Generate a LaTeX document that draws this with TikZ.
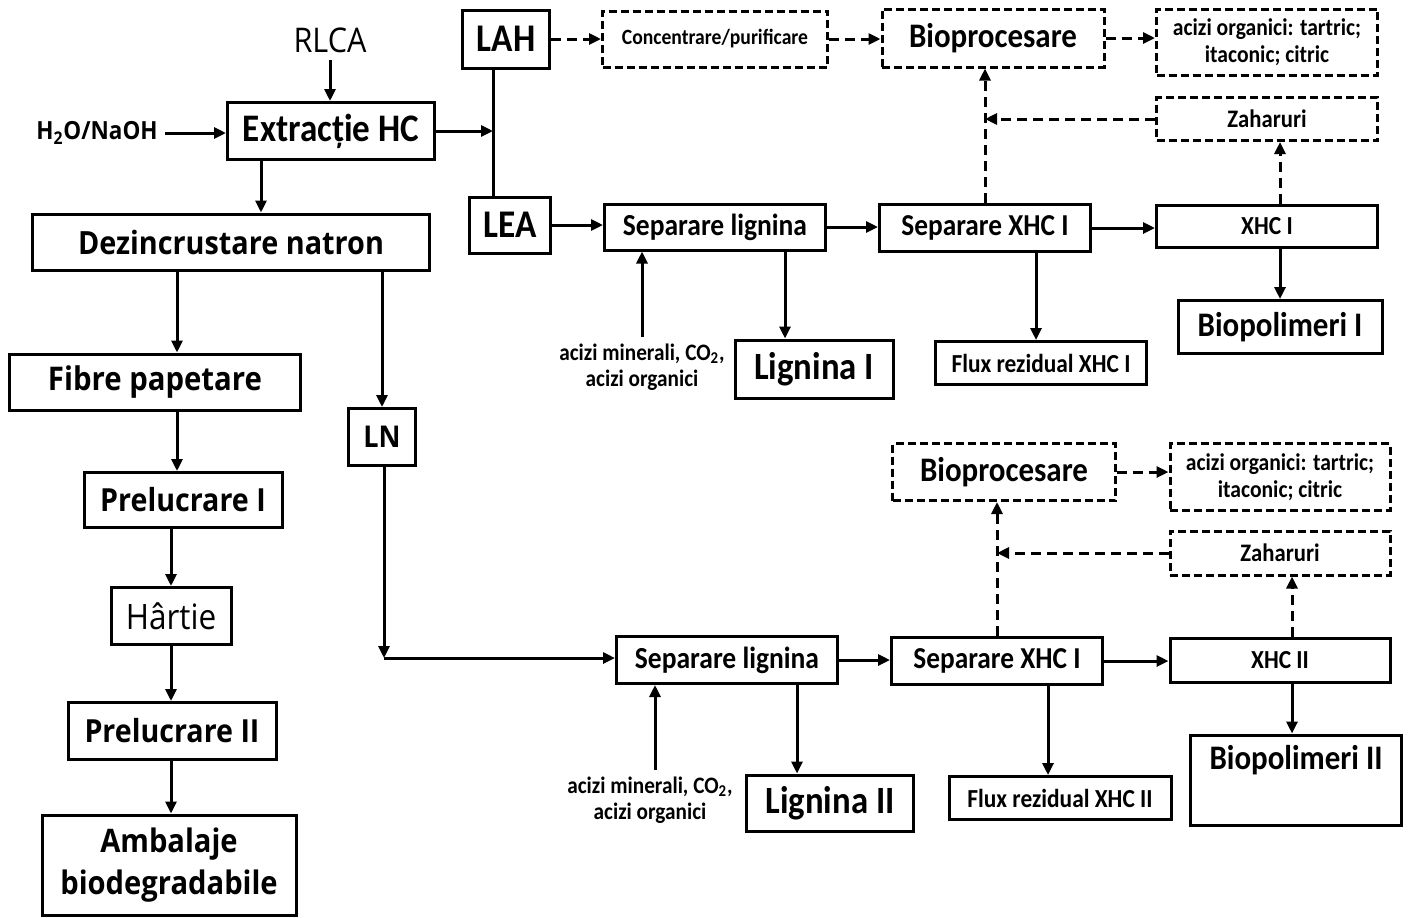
\documentclass[tikz,border=0pt]{standalone}
\usepackage{fontspec}
\setmainfont{Carlito}[FakeStretch=0.9]
\newfontfamily\opensans{Open Sans}[FakeStretch=0.9]
\usetikzlibrary{arrows.meta}

\begin{document}
\begin{tikzpicture}[
    x=0.5pt, y=-0.5pt,
    % Stiluri pentru casete si sageti
    etapa/.style={rectangle, draw=black, line width=1.5pt, text centered, inner sep=1pt},
    etapaDash/.style={etapa, dash pattern=on 4pt off 2pt},
    dim/.style 2 args={minimum width=#1*0.5pt, minimum height=#2*0.5pt},
    txt/.style={font=\bfseries\fontsize{#1}{#1}\selectfont},
    ostxt/.style={font=\opensans\bfseries\fontsize{#1}{#1}\selectfont},
    sageata/.style={line width=1.5pt, -{Triangle[length=6pt, width=5.5pt]}},
    sageataDash/.style={sageata, dash pattern=on 5pt off 3pt},
    linie/.style={line width=1.5pt}
    ]
    \useasboundingbox (0,0) rectangle (1411,917);

    % Noduri - coloana din stanga
    \node (rlca) [font=\opensans\fontsize{17}{17}\selectfont] at (330,40) {RLCA};
    \node (apa) [ostxt=12.5] at (97,133) {H\textsubscript{2}O/NaOH};
    \node (extr) [etapa, dim={207}{57}, txt=19.5] at (331,131) {Extracție HC};
    \node (dezinc) [etapa, dim={397}{56}, ostxt=16] at (231,242) {Dezincrustare natron};
    \node (fibre) [etapa, dim={291}{56}, ostxt=16.3] at (155,382) {Fibre papetare};
    \node (prel1) [etapa, dim={198}{55}, ostxt=15.9] at (183,500) {Prelucrare I};
    \node (hartie) [etapa, dim={120}{57}, font=\opensans\fontsize{17.5}{17.5}\selectfont] at (171,616) {Hârtie};
    \node (prel2) [etapa, dim={208}{57}, ostxt=15.9] at (172,731) {Prelucrare II};
    \node (ambalaj) [etapa, dim={254}{100}, ostxt=16.2, align=center] at (169,865) {Ambalaje\\[4.5pt]biodegradabile};
    \node (ln) [etapa, dim={67}{57}, ostxt=15] at (382,437) {LN};

    % Noduri - LAH / LEA
    \node (lah) [etapa, dim={87}{58}, txt=19.6] at (506,39) {LAH};
    \node (lea) [etapa, dim={81}{56}, txt=19.6] at (510,225) {LEA};
    \coordinate (nod) at (493,131);

    % Noduri - ramura de sus
    \node (conc) [etapaDash, dim={225}{56}, txt=10.9] at (715,39) {Concentrare/purificare};
    \node (bio1) [etapaDash, dim={222}{58}, txt=17.2] at (993,38) {Bioprocesare};
    \node (acid1) [etapaDash, dim={221}{66}, txt=12, align=center] at (1267,42) {acizi organici: tartric;\\[1.2pt]itaconic; citric};
    \node (zah1) [etapaDash, dim={221}{43}, txt=12.6] at (1267,119) {Zaharuri};
    \node (seplig1) [etapa, dim={221}{46}, txt=15.3] at (715,227) {Separare lignina};
    \node (sepxhc1) [etapa, dim={211}{47}, txt=15.2] at (985,228) {Separare XHC I};
    \node (xhc1) [etapa, dim={221}{42}, txt=13] at (1267,226) {XHC I};
    \node (biopol1) [etapa, dim={204}{53}, txt=17.2] at (1280,327) {Biopolimeri I};
    \node (flux1) [etapa, dim={211}{43}, txt=13] at (1041,363) {Flux rezidual XHC I};
    \node (lig1) [etapa, dim={158}{58}, txt=19.3] at (814,369) {Lignina I};
    \node (acmin1) [txt=11.8, align=center] at (642,367) {acizi minerali, CO\textsubscript{2},\\[1.3pt]acizi organici};

    % Noduri - ramura de jos
    \node (bio2) [etapaDash, dim={223}{57}, txt=17.2] at (1004,472) {Bioprocesare};
    \node (acid2) [etapaDash, dim={220}{67}, txt=12, align=center] at (1280,477) {acizi organici: tartric;\\[1.2pt]itaconic; citric};
    \node (zah2) [etapaDash, dim={220}{44}, txt=12.6] at (1280,553) {Zaharuri};
    \node (seplig2) [etapa, dim={221}{47}, txt=15.3] at (727,660) {Separare lignina};
    \node (sepxhc2) [etapa, dim={211}{47}, txt=15.2] at (997,661) {Separare XHC I};
    \node (xhc2) [etapa, dim={220}{44}, txt=13] at (1280,660) {XHC II};
    \node (biopol2) [etapa, dim={211}{90}, txt=17.2, text height=14pt, text depth=25pt, inner ysep=3pt] at (1296,780) {Biopolimeri II};
    \node (flux2) [etapa, dim={222}{43}, txt=13] at (1060,798) {Flux rezidual XHC II};
    \node (lig2) [etapa, dim={167}{56}, txt=19.3] at (830,803) {Lignina II};
    \node (acmin2) [txt=11.8, align=center] at (650,800) {acizi minerali, CO\textsubscript{2},\\[1.3pt]acizi organici};
    \coordinate (colt) at (384,658);

    % Conexiuni - coloana din stanga
    \draw [sageata] (rlca) -- (rlca |- extr.north);
    \draw [sageata] (apa) -- (apa -| extr.west);
    \draw [sageata] (extr) -- (nod);
    \draw [linie] (lah.south -| nod) -- (lea.north -| nod);
    \draw [sageata] ([xshift=-35pt]extr.south) -- ([xshift=-35pt]extr.south |- dezinc.north);
    \draw [sageata] ([xshift=11pt]fibre.north |- dezinc.south) -- ([xshift=11pt]fibre.north);
    \draw [sageata] (ln.north |- dezinc.south) -- (ln.north);
    \draw [sageata] ([xshift=-3pt]prel1.north |- fibre.south) -- ([xshift=-3pt]prel1.north);
    \draw [sageata] (hartie.north |- prel1.south) -- (hartie.north);
    \draw [sageata] (hartie) -- (hartie |- prel2.north);
    \draw [sageata] (hartie |- prel2.south) -- (hartie |- ambalaj.north);
    \draw [sageata] (ln.south -| colt) -- (colt);
    \draw [sageata] (colt) -- (colt -| seplig2.west);

    % Conexiuni - LAH (linii punctate)
    \draw [sageataDash] (lah.east) -- (lah.east -| conc.west);
    \draw [sageataDash] (conc.east) -- (conc.east -| bio1.west);
    \draw [sageataDash] (bio1.east) -- (bio1.east -| acid1.west);

    % Conexiuni - LEA
    \draw [sageata] (lea) -- (lea -| seplig1.west);
    \draw [sageata] (seplig1.east) -- (seplig1.east -| sepxhc1.west);
    \draw [sageata] (sepxhc1.east) -- (sepxhc1.east -| xhc1.west);
    \draw [sageataDash] (sepxhc1.north) -- (sepxhc1.north |- bio1.south);
    \draw [sageataDash] (zah1.west) -- (zah1.west -| sepxhc1.north);
    \draw [sageataDash] ([xshift=6.5pt]xhc1.north) -- ([xshift=6.5pt]zah1.south);
    \draw [sageata] (xhc1.south -| biopol1.north) -- (biopol1.north);
    \draw [sageata] ([xshift=-2.5pt]flux1.north |- sepxhc1.south) -- ([xshift=-2.5pt]flux1.north);
    \draw [sageata] ([xshift=-14.5pt]lig1.north |- seplig1.south) -- ([xshift=-14.5pt]lig1.north);
    \draw [sageata] (acmin1.north) -- (acmin1.north |- seplig1.south);

    % Conexiuni - LN
    \draw [sageata] (seplig2.east) -- (seplig2.east -| sepxhc2.west);
    \draw [sageata] (sepxhc2.east) -- (sepxhc2.east -| xhc2.west);
    \draw [sageataDash] (sepxhc2.north) -- (sepxhc2.north |- bio2.south);
    \draw [sageataDash] (bio2.east) -- (bio2.east -| acid2.west);
    \draw [sageataDash] (zah2.west) -- (zah2.west -| sepxhc2.north);
    \draw [sageataDash] ([xshift=6pt]xhc2.north) -- ([xshift=6pt]zah2.south);
    \draw [sageata] ([xshift=6pt]xhc2.south) -- ([xshift=6pt]xhc2.south |- biopol2.north);
    \draw [sageata] ([xshift=-6pt]flux2.north |- sepxhc2.south) -- ([xshift=-6pt]flux2.north);
    \draw [sageata] ([xshift=-16.5pt]lig2.north |- seplig2.south) -- ([xshift=-16.5pt]lig2.north);
    \draw [sageata] ([xshift=2.5pt]acmin2.north) -- ([xshift=2.5pt]acmin2.north |- seplig2.south);

\end{tikzpicture}
\end{document}
